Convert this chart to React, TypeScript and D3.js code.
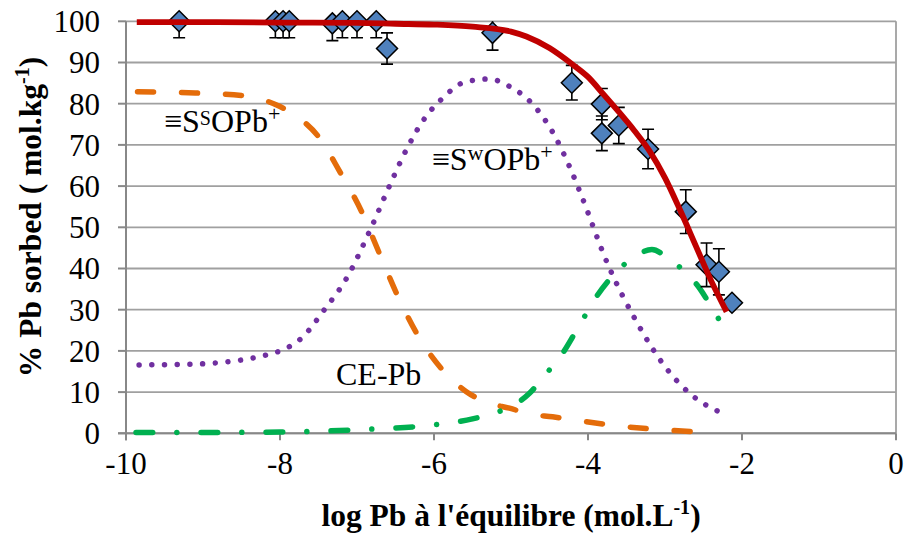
import React from 'react';
import * as d3 from 'd3';

const xTicks = [-10, -8, -6, -4, -2, 0];
const yTicks = [0, 10, 20, 30, 40, 50, 60, 70, 80, 90, 100];

// observed data
const obsX = [-9.31, -8.06, -7.96, -7.88, -7.32, -7.19, -7.0, -6.75, -6.61, -5.24, -4.21, -3.82, -3.82, -3.6, -3.22, -2.73, -2.46, -2.3, -2.13];
const obsY = [100, 100, 100, 100, 99.5, 100, 100, 100, 93.4, 97.2, 85.1, 79.9, 72.8, 74.7, 69.0, 53.8, 40.9, 39.2, 31.7];
const obsErr = [4, 4, 4, 4, 4.2, 4, 4, 4, 3.8, 4.2, 4.2, 3.8, 4.2, 4.4, 4.8, 5.3, 5.3, 5.6, 0];

// model: total
const totX = [-9.86, -9, -8, -7, -6.5, -6, -5.5, -5, -4.8, -4.5, -4.2, -4.0, -3.8, -3.6, -3.4, -3.2, -3.0, -2.8, -2.6, -2.4, -2.2];
const totY = [99.8, 99.8, 99.7, 99.6, 99.4, 99.2, 98.7, 97.5, 96.3, 93.5, 89.5, 86.5, 82.3, 78, 73.5, 68.5, 62, 54, 45.5, 37, 29.5];

// model: strong sites
const ssX = [-9.85, -9.1, -8.5, -8.0, -7.75, -7.5, -7.22, -6.94, -6.71, -6.48, -6.22, -5.89, -5.58, -5.28, -5.02, -4.74, -4.46, -4.16, -3.7, -3.15, -2.6, -2.42];
const ssY = [82.9, 82.6, 82, 79.3, 76.5, 72, 63.4, 53.8, 43.7, 33.7, 24.1, 15.4, 10.1, 7.3, 6.1, 4.6, 4.0, 3.2, 2.0, 1.0, 0.4, 0.3];

// model: weak sites
const swX = [-9.83, -9.3, -8.83, -8.5, -8.18, -8.0, -7.72, -7.42, -7.13, -6.84, -6.57, -6.36, -6.1, -5.89, -5.62, -5.29, -5.01, -4.73, -4.45, -4.23, -4.1, -3.74, -3.37, -3.02, -2.68, -2.26];
const swY = [16.6, 16.7, 17.1, 17.8, 19, 20, 23.1, 30.1, 37.8, 48.9, 60.4, 68.8, 77, 81.3, 85.1, 86, 84.1, 80.1, 72.8, 64.3, 58.4, 40.9, 27.1, 16.7, 9.7, 4.9];

// model: cation exchange
const ceX = [-9.87, -9, -8, -7.5, -6.84, -6.02, -5.5, -5.22, -4.95, -4.76, -4.57, -4.36, -4.1, -3.89, -3.63, -3.4, -3.17, -2.96, -2.72, -2.55, -2.4, -2.19];
const ceY = [0.2, 0.2, 0.3, 0.5, 1.0, 2.0, 3.5, 4.9, 7.0, 9.7, 13.9, 18.6, 26.6, 33.2, 39.2, 42.8, 44.6, 42.5, 38.8, 35.2, 30.7, 24.3];

const FONT = '"Liberation Serif", "Times New Roman", serif';

export default function App() {
  const W = 906, H = 533;
  const left = 126, right = 896, top = 21.3, bottom = 433.3;
  const x = d3.scaleLinear().domain([-10, 0]).range([left, right]);
  const y = d3.scaleLinear().domain([0, 100]).range([bottom, top]);
  const line = d3.line<[number, number]>().x(d => x(d[0])).y(d => y(d[1])).curve(d3.curveMonotoneX);
  const zip = (a: number[], b: number[]) => a.map((v, i) => [v, b[i]] as [number, number]);
  const grid = '#A0A0A0';
  const axisC = '#888888';
  const dsz = 10.5;

  return (
    <svg width={W} height={H} style={{ position: 'absolute', left: 0, top: 0, background: '#fff' }} fontFamily={FONT}>
      <defs>
        <clipPath id="plotclip"><rect x={left} y={top} width={right - left} height={bottom - top} /></clipPath>
      </defs>
      <rect x={0} y={0} width={W} height={H} fill="#fff" />
      {yTicks.map(t => (
        <line key={'g' + t} x1={left} x2={right} y1={y(t)} y2={y(t)} stroke={grid} strokeWidth={1.8} />
      ))}
      <line x1={right} x2={right} y1={top} y2={bottom} stroke={grid} strokeWidth={1.8} />
      {/* axes */}
      <line x1={left} x2={left} y1={top} y2={bottom + 7} stroke={axisC} strokeWidth={2} />
      <line x1={left - 8} x2={right} y1={bottom} y2={bottom} stroke={axisC} strokeWidth={2} />
      {yTicks.map(t => (
        <g key={'yt' + t}>
          <line x1={left - 8} x2={left} y1={y(t)} y2={y(t)} stroke={axisC} strokeWidth={2} />
          <text x={100} y={y(t)} dy="0.35em" textAnchor="end" fontSize={31} fontFamily={FONT}>{t}</text>
        </g>
      ))}
      {xTicks.map(t => (
        <g key={'xt' + t}>
          <line x1={x(t)} x2={x(t)} y1={bottom} y2={bottom + 7} stroke={axisC} strokeWidth={2} />
          <text x={x(t)} y={474} textAnchor="middle" fontSize={31} fontFamily={FONT}>{t}</text>
        </g>
      ))}
      {/* model curves */}
      <path d={line(zip(ssX, ssY)) || ''} fill="none" stroke="#E46C0A" strokeWidth={5.5} strokeLinecap="round" strokeDasharray="16 28" />
      <path d={line(zip(swX, swY)) || ''} fill="none" stroke="#7030A0" strokeWidth={5.5} strokeLinecap="round" strokeDasharray="0.01 12.7" />
      <path d={line(zip(ceX, ceY)) || ''} fill="none" stroke="#00B050" strokeWidth={5.5} strokeLinecap="round" strokeDasharray="16.7 24.1 0.01 24.2" />
      {/* observations */}
      <g clipPath="url(#plotclip)">
        {obsX.map((v, i) => obsErr[i] > 0 ? (
          <g key={'e' + i} stroke="#000" strokeWidth={1.6}>
            <line x1={x(v)} x2={x(v)} y1={y(obsY[i] - obsErr[i])} y2={y(obsY[i] + obsErr[i])} />
            <line x1={x(v) - 6} x2={x(v) + 6} y1={y(obsY[i] - obsErr[i])} y2={y(obsY[i] - obsErr[i])} />
            <line x1={x(v) - 6} x2={x(v) + 6} y1={y(obsY[i] + obsErr[i])} y2={y(obsY[i] + obsErr[i])} />
          </g>
        ) : null)}
      </g>
      {obsX.map((v, i) => {
        const cx = x(v), cy = y(obsY[i]);
        return (
          <path key={'d' + i} d={`M${cx},${cy - dsz}L${cx + dsz},${cy}L${cx},${cy + dsz}L${cx - dsz},${cy}Z`} fill="#4F81BD" stroke="#000" strokeWidth={1.5} />
        );
      })}
      <path d={line(zip(totX, totY)) || ''} fill="none" stroke="#C00000" strokeWidth={5.8} strokeLinejoin="round" />
      {/* annotations */}
      <text x={164} y={131.7} fontSize={32} fontFamily={FONT}>
        ≡S<tspan fontSize={20} dy={-7}>S</tspan><tspan dy={7}>OPb</tspan><tspan fontSize={22} dy={-11}>+</tspan>
      </text>
      <text x={431.7} y={170} fontSize={32} fontFamily={FONT}>
        ≡S<tspan fontSize={22} dy={-10}>w</tspan><tspan dy={10}>OPb</tspan><tspan fontSize={22} dy={-11}>+</tspan>
      </text>
      <text x={336} y={385} fontSize={32} fontFamily={FONT}>CE-Pb</text>
      {/* axis titles */}
      <text transform="translate(41,217) rotate(-90)" textAnchor="middle" fontSize={31.5} fontWeight="bold" fontFamily={FONT}>
        % Pb sorbed ( mol.kg<tspan fontSize={20} dy={-12}>-1</tspan><tspan dy={12}>)</tspan>
      </text>
      <text x={511} y={526} textAnchor="middle" fontSize={31.5} fontWeight="bold" fontFamily={FONT}>
        log Pb à l'équilibre (mol.L<tspan fontSize={20} dy={-12}>-1</tspan><tspan dy={12}>)</tspan>
      </text>
    </svg>
  );
}
